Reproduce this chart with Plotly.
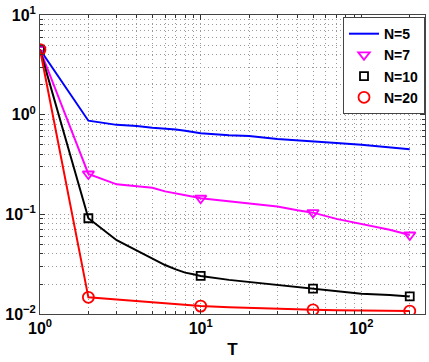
import plotly.graph_objects as go

# T values where each curve is sampled
t_vals = [1, 2, 3, 4, 5, 6, 7, 8, 9, 10, 15, 20, 30, 40, 50, 70, 100, 150, 200]

n5 = [4.5, 0.87, 0.79, 0.77, 0.74, 0.73, 0.71, 0.69, 0.67, 0.65,
      0.62, 0.61, 0.57, 0.55, 0.54, 0.52, 0.50, 0.47, 0.45]
n7 = [4.5, 0.254, 0.20, 0.193, 0.185, 0.17, 0.163, 0.155, 0.15, 0.145,
      0.135, 0.128, 0.12, 0.11, 0.104, 0.09, 0.08, 0.07, 0.062]
n10 = [4.5, 0.0914, 0.055, 0.043, 0.036, 0.031, 0.028, 0.026, 0.025, 0.0241,
       0.022, 0.021, 0.0195, 0.0185, 0.018, 0.017, 0.016, 0.0155, 0.015]
n20 = [4.5, 0.0147, 0.014, 0.0135, 0.013, 0.0127, 0.0125, 0.0123, 0.0121, 0.012,
       0.0117, 0.0115, 0.0113, 0.0111, 0.011, 0.0109, 0.0108, 0.0107, 0.0107]

# marker positions (subset of T)
mark_t = [1, 2, 10, 50, 200]

series = [
    ("N=5", n5, "#0000ff", None),
    ("N=7", n7, "#ff00ff", "triangle-down-open"),
    ("N=10", n10, "#000000", "square-open"),
    ("N=20", n20, "#ff0000", "circle-open"),
]
msize = {"triangle-down-open": 10, "square-open": 8, "circle-open": 11}

fig = go.Figure()
for name, vals, col, sym in series:
    fig.add_trace(go.Scatter(x=t_vals, y=vals, mode="lines", name="<b>%s</b>" % name,
                             line=dict(color=col, width=2),
                             showlegend=(sym is None)))
    if sym:
        my = [vals[t_vals.index(t)] for t in mark_t]
        fig.add_trace(go.Scatter(x=mark_t, y=my, mode="markers", name="<b>%s</b>" % name,
                                 marker=dict(symbol=sym, size=msize[sym], color=col,
                                             line=dict(color=col, width=1.8))))

font_fam = "Liberation Sans, Arial, sans-serif"
tickfont = dict(family=font_fam, size=16, color="black")
grid = dict(showgrid=True, gridcolor="#9a9a9a", gridwidth=1, griddash="1px,3px")

fig.update_xaxes(type="log", range=[0, 2.396], automargin=False,
                 tickvals=[1, 10, 100],
                 ticktext=["<b>10<sup>0</sup></b>", "<b>10<sup>1</sup></b>", "<b>10<sup>2</sup></b>"],
                 tickfont=tickfont, ticks="inside", ticklen=5, tickcolor="#333",
                 showline=True, linecolor="#444", linewidth=1, mirror="allticks",
                 zeroline=False,
                 minor=dict(ticks="inside", ticklen=3, tickcolor="#333",
                            dtick="D1", **grid),
                 title=dict(text="<b>T</b>", font=dict(family=font_fam, size=17, color="black"),
                            standoff=6),
                 **grid)
fig.update_yaxes(type="log", range=[-2, 1], automargin=False,
                 tickvals=[0.01, 0.1, 1, 10],
                 ticktext=["<b>10<sup>−2</sup></b>", "<b>10<sup>−1</sup></b>",
                           "<b>10<sup>0</sup></b>", "<b>10<sup>1</sup></b>"],
                 tickfont=tickfont, ticks="inside", ticklen=5, tickcolor="#333",
                 showline=True, linecolor="#444", linewidth=1, mirror="allticks",
                 zeroline=False,
                 minor=dict(ticks="inside", ticklen=3, tickcolor="#333",
                            dtick="D1", **grid),
                 **grid)

fig.update_layout(
    width=429, height=362,
    margin=dict(l=40, r=4, t=15, b=48, autoexpand=False),
    paper_bgcolor="white", plot_bgcolor="white",
    showlegend=True,
    legend=dict(x=1, xanchor="right", y=0.993, yanchor="top",
                bgcolor="white", bordercolor="#444", borderwidth=1,
                font=dict(family=font_fam, size=14, color="black"),
                tracegroupgap=0, itemwidth=30),
)

# page has a default 8px body margin; drop it so the figure sits at the window corner
fig.write_html("out.html", config={"displayModeBar": False},
               post_script="document.body.style.margin='0';")
